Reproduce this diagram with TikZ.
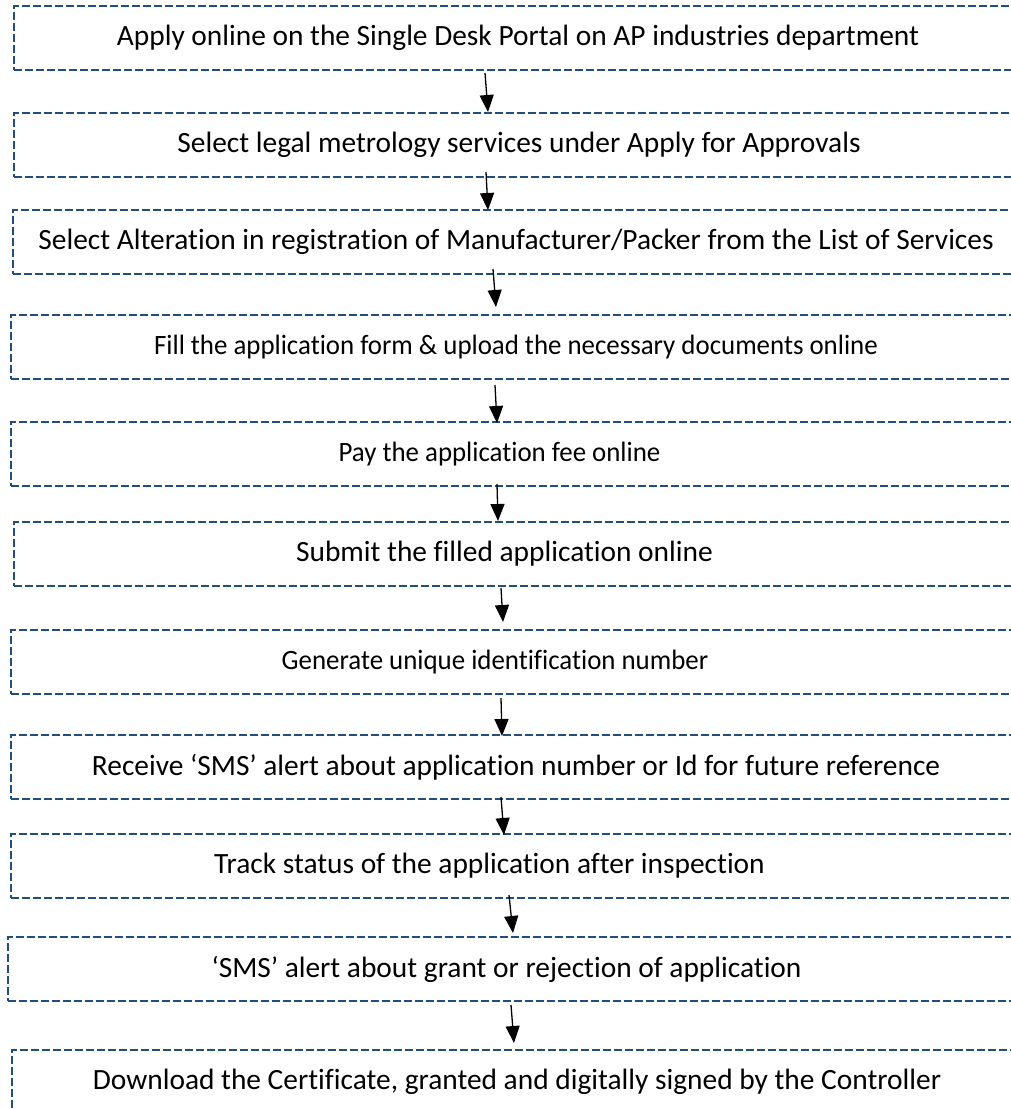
\documentclass[tikz,border=0pt]{standalone}
\usepackage{fontspec}
\setmainfont{Carlito}[Ligatures=NoCommon]
\newfontfamily\narrowfont{Carlito}[Ligatures=NoCommon, FakeStretch=0.96]
\usetikzlibrary{positioning, arrows.meta}
\definecolor{boxblue}{RGB}{35,77,122}
\tikzstyle{stepbox} = [rectangle, minimum width=1010pt, minimum height=64pt, inner sep=0pt, outer sep=0pt, text centered, draw=boxblue, line width=2.5pt, dash pattern=on 8pt off 3pt, font=\fontsize{29.4pt}{34pt}\selectfont]
\tikzstyle{smalltext} = [font=\narrowfont\fontsize{28pt}{33pt}\selectfont]
\tikzstyle{nudge} = [execute at begin node={\hspace*{#1}\hspace*{#1}}]
\tikzstyle{arrow} = [line width=1.3pt, -{Triangle[length=17pt,width=14pt]}]

\begin{document}
\begin{tikzpicture}[node distance=40pt]
  \useasboundingbox (0,0) rectangle (1011pt,-1109pt);
  \clip (0,0) rectangle (1011pt,-1109pt);
  \node (apply) [stepbox, anchor=north west, nudge=-1pt] at (14pt,-6pt) {Apply online on the Single Desk Portal on AP industries department};
  \node (services) [stepbox, below=43pt of apply] {Select legal metrology services under Apply for Approvals};
  \node (alteration) [stepbox, below=33pt of services, xshift=-1pt, nudge=-2pt] {Select Alteration in registration of Manufacturer/Packer from the List of Services};
  \node (fillform) [stepbox, smalltext, below=41pt of alteration, xshift=-2pt] {Fill the application form \& upload the necessary documents online};
  \node (payfee) [stepbox, smalltext, below=43pt of fillform, nudge=-16.5pt] {Pay the application fee online};
  \node (submit) [stepbox, below=36pt of payfee, xshift=3pt, nudge=-14.5pt] {Submit the filled application online};
  \node (genid) [stepbox, smalltext, below=44pt of submit, xshift=-3pt, nudge=-21pt] {Generate unique identification number};
  \node (smsid) [stepbox, below=41pt of genid] {Receive ‘SMS’ alert about application number or Id for future reference};
  \node (track) [stepbox, below=35pt of smsid, nudge=-26.5pt] {Track status of the application after inspection};
  \node (smsgrant) [stepbox, below=39pt of track, xshift=-3pt, nudge=-6.5pt] {‘SMS’ alert about grant or rejection of application};
  \node (download) [stepbox, below=49pt of smsgrant, xshift=4pt] {Download the Certificate, granted and digitally signed by the Controller};
  \draw [arrow] ([xshift=-34pt,yshift=-3pt]apply.south) -- ([xshift=-31pt,yshift=1pt]services.north);
  \draw [arrow] ([xshift=-33pt,yshift=5pt]services.south) -- ([xshift=-30pt]alteration.north);
  \draw [arrow] ([xshift=-25pt,yshift=5pt]alteration.south) -- ([xshift=-20pt,yshift=8pt]fillform.north);
  \draw [arrow] ([xshift=-21pt,yshift=-6pt]fillform.south) -- ([xshift=-19pt,yshift=-1pt]payfee.north);
  \draw [arrow] ([xshift=-19pt,yshift=2pt]payfee.south) -- ([xshift=-21pt,yshift=1pt]submit.north);
  \draw [arrow] ([xshift=-18pt,yshift=-2pt]submit.south) -- ([xshift=-13pt,yshift=8pt]genid.north);
  \draw [arrow] ([xshift=-15pt,yshift=-4pt]genid.south) -- ([xshift=-14pt,yshift=-1pt]smsid.north);
  \draw [arrow] ([xshift=-15pt,yshift=2pt]smsid.south) -- ([xshift=-12pt,yshift=-1pt]track.north);
  \draw [arrow] ([xshift=-7pt,yshift=3pt]track.south) -- ([yshift=4pt]smsgrant.north);
  \draw [arrow] ([xshift=-2pt,yshift=-4pt]smsgrant.south) -- ([xshift=-3pt,yshift=7pt]download.north);
\end{tikzpicture}
\end{document}
